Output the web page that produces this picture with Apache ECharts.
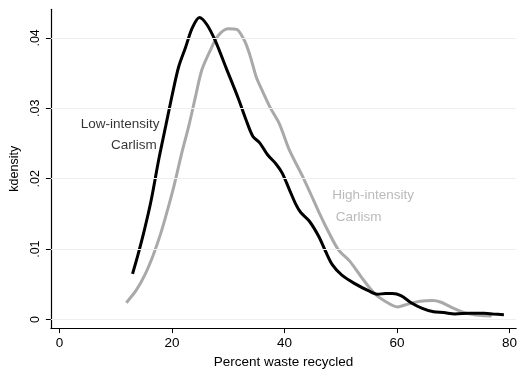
<!DOCTYPE html>
<html>
<head>
<meta charset="utf-8">
<script src="https://cdn.jsdelivr.net/npm/echarts@6/dist/echarts.min.js"></script>
<style>html,body{margin:0;padding:0;background:#fff}#c{width:520px;height:374px}</style>
</head>
<body>
<div id="c"></div>
<script>
// Low-intensity Carlism kernel density: [percent, density]
const lowIntensity = [
  [13.0,.0065],[13.9,.0090],[15.1,.0127],[16.3,.0169],[17.7,.0229],[18.9,.0275],
  [20.1,.0321],[21.2,.0359],[22.4,.0386],[23.6,.0414],[24.9,.0429],[26.2,.0419],
  [27.7,.0396],[29.7,.0356],[31.8,.0314],[33.2,.0283],[34.4,.0260],[35.6,.0251],
  [37.0,.0234],[38.5,.0221],[39.6,.0208],[40.8,.0186],[42.0,.0164],[42.9,.0152],
  [44.4,.0140],[46.1,.0118],[47.3,.0097],[48.5,.0078],[50.2,.0063],[52.5,.0051],
  [54.9,.0041],[56.5,.0036],[58.0,.0037],[59.2,.0037],[60.7,.0034],[62.5,.0024],
  [64.5,.0016],[66.5,.0011],[68.3,.0010],[70.3,.0008],[73.0,.0009],[75.5,.0009],
  [77.1,.0008],[79.0,.0007]
];
// High-intensity Carlism kernel density
const highIntensity = [
  [11.9,.0024],[13.6,.0041],[15.1,.0062],[16.6,.0090],[18.0,.0122],[19.2,.0155],
  [20.4,.0191],[21.8,.0238],[23.0,.0275],[24.2,.0317],[25.3,.0354],[26.8,.0382],
  [28.2,.0403],[30.0,.0413],[31.5,.0412],[32.9,.0396],[33.8,.0377],[35.0,.0344],
  [35.6,.0333],[37.4,.0302],[39.1,.0278],[40.8,.0242],[43.3,.0202],[45.2,.0169],
  [46.1,.0153],[47.8,.0125],[49.6,.0099],[51.6,.0083],[53.7,.0060],[56.0,.0037],
  [58.1,.0025],[60.1,.0018],[61.9,.0022],[64.2,.0026],[66.3,.0027],[67.7,.0025],
  [70.1,.0016],[72.4,.0009],[74.7,.0006],[76.8,.0005]
];
const xTicks = [0, 20, 40, 60, 80];
const yTicks = [0, 0.01, 0.02, 0.03, 0.04];
const xTitle = 'Percent waste recycled';
const yTitle = 'kdensity';
// annotation anchors [x, y, text]
const lowLabels = [[17.8, 0.0277, 'Low-intensity'], [17.3, 0.0248, 'Carlism']];
const highLabels = [[48.5, 0.0177, 'High-intensity'], [49.1, 0.0145, 'Carlism']];

const FONT = '"Liberation Sans", Arial, Helvetica, sans-serif';
const GREY = '#a9a9a9';
const chart = echarts.init(document.getElementById('c'), null, {renderer: 'canvas'});
const fmtY = v => v === 0 ? '0' : String(v).replace(/^0/, '');

chart.setOption({
  animation: false,
  backgroundColor: '#fff',
  grid: {left: 48.7, right: 0, top: 9.3, bottom: 39, containLabel: false},
  xAxis: {
    type: 'value', min: -1.51, max: 81.17,
    axisLine: {show: true, onZero: false, lineStyle: {color: '#000', width: 1.2}},
    axisTick: {show: true, customValues: xTicks, length: 5, lineStyle: {color: '#000', width: 1}},
    axisLabel: {customValues: xTicks, color: '#000', fontSize: 13.5, fontFamily: FONT, margin: 8},
    splitLine: {show: false},
    name: xTitle, nameLocation: 'middle', nameGap: 21,
    nameTextStyle: {color: '#000', fontSize: 13.5, fontFamily: FONT}
  },
  yAxis: {
    type: 'value', min: -0.00121, max: 0.04406,
    axisLine: {show: true, onZero: false, lineStyle: {color: '#000', width: 1.2}},
    axisTick: {show: true, customValues: yTicks, length: 5, lineStyle: {color: '#000', width: 1}},
    axisLabel: {customValues: yTicks, formatter: fmtY, rotate: 90, color: '#000', fontSize: 12.5, fontFamily: FONT, margin: 9},
    splitLine: {show: false},
    name: yTitle, nameLocation: 'middle', nameGap: 24, nameRotate: 90,
    nameTextStyle: {color: '#000', fontSize: 12.5, fontFamily: FONT}
  },
  series: [
    {
      type: 'line', data: [], silent: true, z: 1,
      markLine: {
        silent: true, symbol: 'none', animation: false,
        label: {show: false},
        lineStyle: {color: '#e8f0f2', width: 1, type: 'solid'},
        data: yTicks.map(v => ({yAxis: v}))
      }
    },
    {
      name: 'High-intensity', type: 'line', data: highIntensity, smooth: 0.3,
      showSymbol: false, z: 3,
      lineStyle: {color: GREY, width: 3}
    },
    {
      name: 'Low-intensity', type: 'line', data: lowIntensity, smooth: 0.3,
      showSymbol: false, z: 4,
      lineStyle: {color: '#000', width: 3}
    },
    {
      type: 'scatter', data: lowLabels, symbolSize: 0, z: 5,
      label: {show: true, position: 'left', distance: 0, formatter: p => p.data[2],
        color: '#000', fontSize: 13.5, fontFamily: FONT}
    },
    {
      type: 'scatter', data: highLabels, symbolSize: 0, z: 5,
      label: {show: true, position: 'right', distance: 0, formatter: p => p.data[2],
        color: GREY, fontSize: 13.5, fontFamily: FONT}
    }
  ]
});
</script>
</body>
</html>
